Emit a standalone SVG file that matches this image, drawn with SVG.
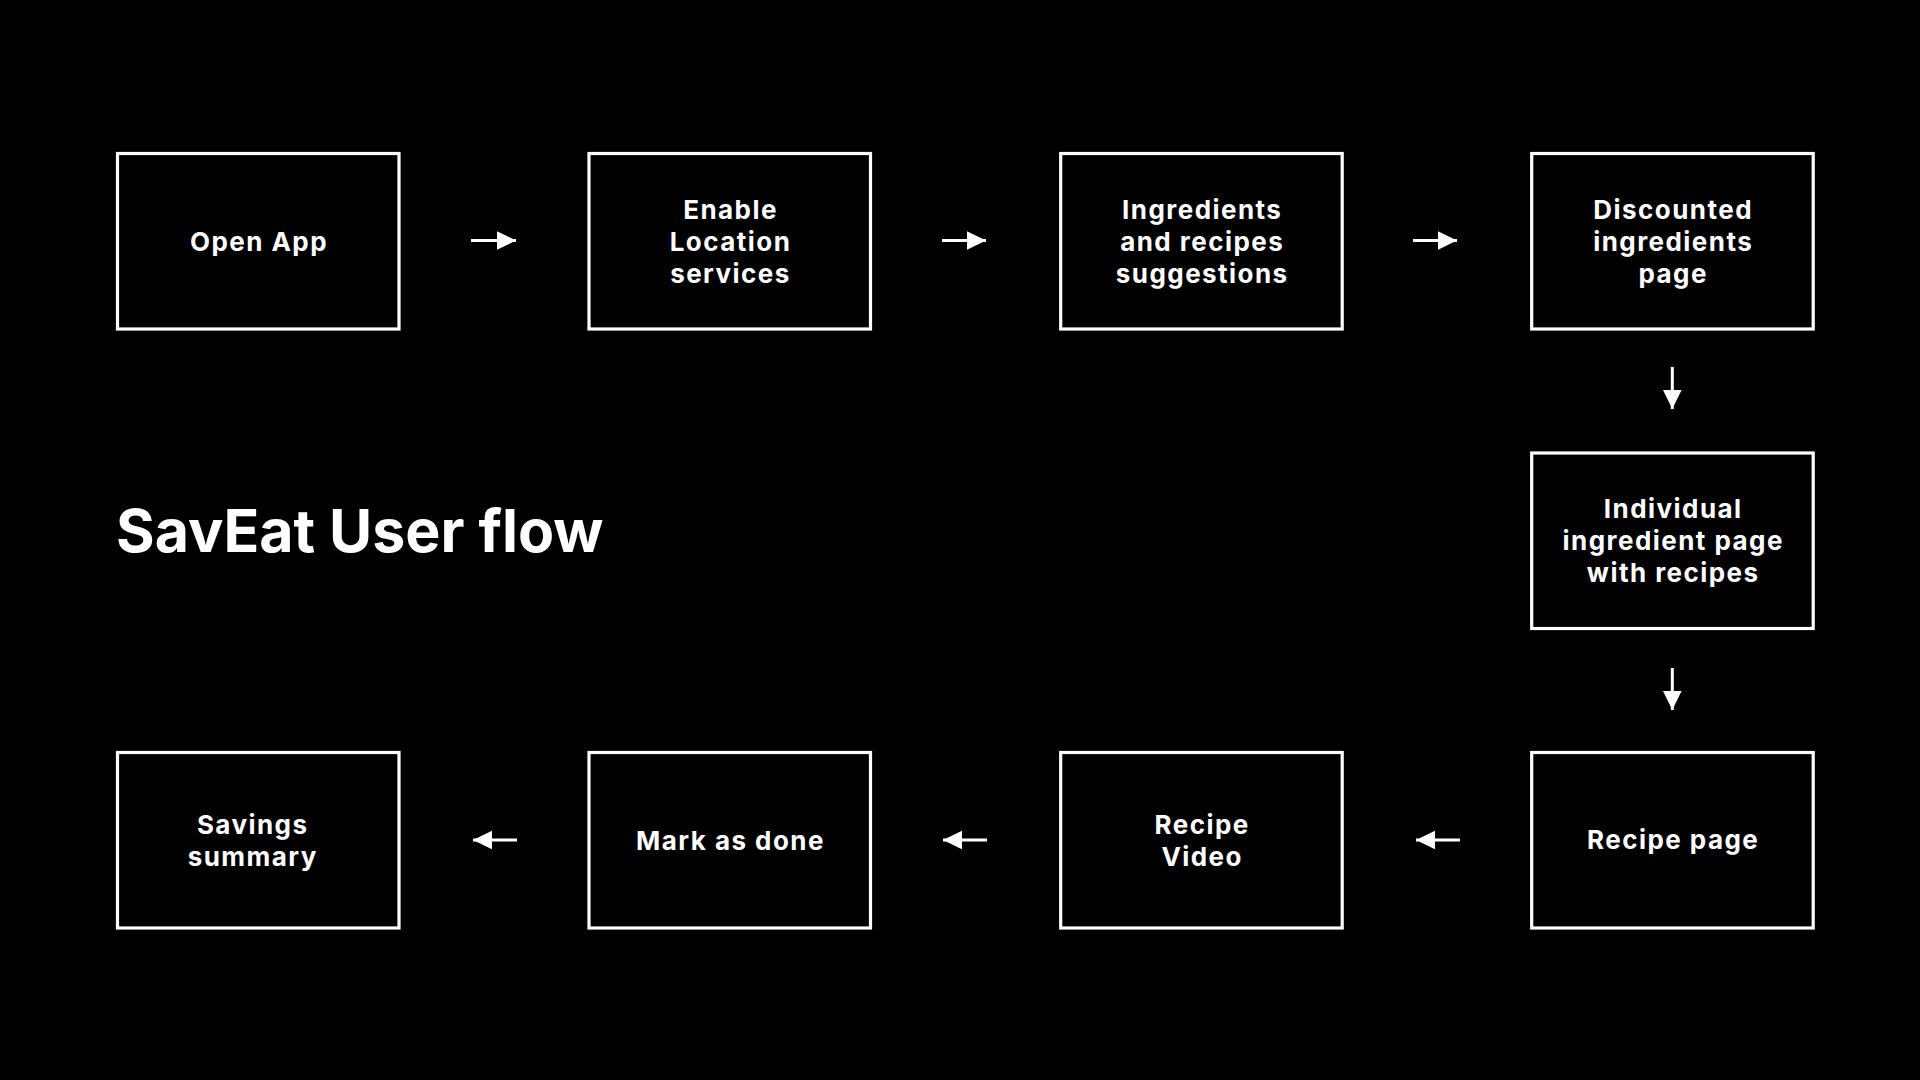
<svg xmlns="http://www.w3.org/2000/svg" width="1920" height="1080" viewBox="0 0 1920 1080">
<defs>
<style>
.box{fill:#000;stroke:#fff;stroke-width:3.2}
.lbl{fill:#fff;font-family:Inter,Lato,"Liberation Sans",sans-serif;font-weight:700;font-size:26px;letter-spacing:1.45px;text-anchor:middle}
.title{fill:#fff;font-family:Inter,Lato,"Liberation Sans",sans-serif;font-weight:700;font-size:59px}
.arr{stroke:#fff;stroke-width:3;fill:none;marker-end:url(#ah)}
</style>
<marker id="ah" markerUnits="userSpaceOnUse" markerWidth="20" markerHeight="19" refX="19" refY="9.3" orient="auto">
<path d="M0,0 L19,9.3 L0,18.6 Z" fill="#fff"/>
</marker>
</defs>
<rect width="1920" height="1080" fill="#000"/>
<text class="title" x="116" y="552">SavEat User flow</text>
<g id="connectors">
<line class="arr" x1="471" y1="240.5" x2="516" y2="240.5"/>
<line class="arr" x1="942" y1="240.5" x2="986" y2="240.5"/>
<line class="arr" x1="1413" y1="240.5" x2="1457" y2="240.5"/>
<line class="arr" x1="1672.3" y1="367" x2="1672.3" y2="409"/>
<line class="arr" x1="1672.3" y1="668" x2="1672.3" y2="710"/>
<line class="arr" x1="1460" y1="840" x2="1416" y2="840"/>
<line class="arr" x1="987" y1="840" x2="943" y2="840"/>
<line class="arr" x1="517" y1="840" x2="473" y2="840"/>
</g>
<g id="n1"><rect class="box" x="117.5" y="153.5" width="281.5" height="175.5"/><text class="lbl" x="259" y="250.5">Open App</text></g>
<g id="n2"><rect class="box" x="589" y="153.5" width="281.5" height="175.5"/><text class="lbl"><tspan x="730.5" y="218.5">Enable</tspan><tspan x="730.5" y="250.5">Location</tspan><tspan x="730.5" y="282.5">services</tspan></text></g>
<g id="n3"><rect class="box" x="1060.7" y="153.5" width="281.5" height="175.5"/><text class="lbl"><tspan x="1202.2" y="218.5">Ingredients</tspan><tspan x="1202.2" y="250.5">and recipes</tspan><tspan x="1202.2" y="282.5">suggestions</tspan></text></g>
<g id="n4"><rect class="box" x="1531.7" y="153.5" width="281.5" height="175.5"/><text class="lbl"><tspan x="1673.2" y="218.5">Discounted</tspan><tspan x="1673.2" y="250.5">ingredients</tspan><tspan x="1673.2" y="282.5">page</tspan></text></g>
<g id="n5"><rect class="box" x="1531.7" y="453" width="281.5" height="175.5"/><text class="lbl"><tspan x="1673.2" y="518">Individual</tspan><tspan x="1673.2" y="550">ingredient page</tspan><tspan x="1673.2" y="582">with recipes</tspan></text></g>
<g id="n6"><rect class="box" x="1531.7" y="752.5" width="281.5" height="175.5"/><text class="lbl" x="1673.2" y="849">Recipe page</text></g>
<g id="n7"><rect class="box" x="1060.7" y="752.5" width="281.5" height="175.5"/><text class="lbl"><tspan x="1202.2" y="833.5">Recipe</tspan><tspan x="1202.2" y="865.5">Video</tspan></text></g>
<g id="n8"><rect class="box" x="589" y="752.5" width="281.5" height="175.5"/><text class="lbl" x="730.5" y="849.5">Mark as done</text></g>
<g id="n9"><rect class="box" x="117.5" y="752.5" width="281.5" height="175.5"/><text class="lbl"><tspan x="252.7" y="833.5">Savings</tspan><tspan x="252.7" y="865.5">summary</tspan></text></g>
</svg>
